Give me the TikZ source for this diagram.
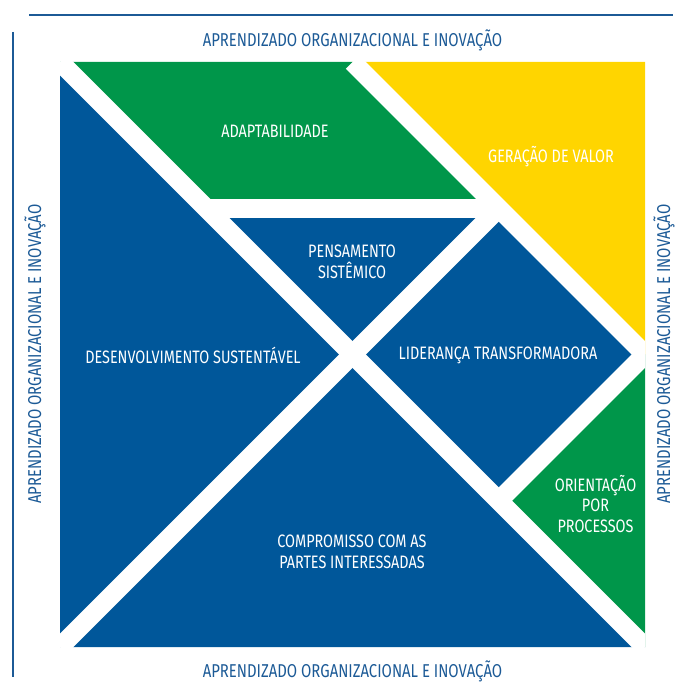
\documentclass[tikz,border=0pt]{standalone}
\usepackage{fontspec}
\newfontfamily\labfont{Fira Sans}[FakeStretch=0.80]
\definecolor{tblue}{HTML}{00579A}
\definecolor{tgreen}{HTML}{00964A}
\definecolor{tyellow}{HTML}{FFD500}
\definecolor{tline}{HTML}{1C5A96}
\begin{document}
\begin{tikzpicture}[x=1pt,y=-1pt,
  piece/.style={draw=none},
  cut/.style={draw=white,line width=19pt,line cap=butt},
  inlab/.style={text=white,font=\labfont\fontsize{18}{20.7}\selectfont,align=center,inner sep=0pt},
  outlab/.style={text=tline,font=\labfont\fontsize{18.6}{20}\selectfont,inner sep=0pt},
  frame/.style={draw=tline,line width=2.6pt}]
\useasboundingbox (0,0) rectangle (678,685);
% tangram corner points
\coordinate (A) at (60,62);
\coordinate (B) at (645,62);
\coordinate (C) at (645,647);
\coordinate (D) at (60,647);
\coordinate (O) at (352.5,354.5);
\coordinate (M1) at (352.5,62);
\coordinate (M2) at (645,354.5);
\coordinate (Q1) at (206.25,208.25);
\coordinate (Q2) at (498.75,208.25);
\coordinate (Q3) at (498.75,500.75);
% frame lines
\coordinate (f1) at (29,15);
\coordinate (f2) at (673,15);
\coordinate (f3) at (13,32);
\coordinate (f4) at (13,677);
\draw[frame] (f1) -- (f2);
\draw[frame] (f3) -- (f4);
% pieces
\fill[tblue] (A) -- (D) -- (O) -- cycle;
\fill[tblue] (D) -- (C) -- (O) -- cycle;
\fill[tyellow] (M1) -- (B) -- (M2) -- cycle;
\fill[tgreen] (A) -- (M1) -- (Q2) -- (Q1) -- cycle;
\fill[tblue] (Q1) -- (Q2) -- (O) -- cycle;
\fill[tblue] (O) -- (Q2) -- (M2) -- (Q3) -- cycle;
\fill[tgreen] (M2) -- (C) -- (Q3) -- cycle;
% white cuts
\begin{scope}
\clip (A) rectangle (C);
\draw[cut] (A) -- (C);
\draw[cut] (D) -- (Q2);
\draw[cut] (M1) -- (M2);
\draw[cut] (Q1) -- (Q2);
\draw[cut] (M2) -- (Q3);
\end{scope}
% inner labels
\node[inlab] (adapt) at (275,131) {ADAPTABILIDADE};
\node[inlab] (valor) at (551,157) {GERAÇÃO DE VALOR};
\node[inlab] (pens) at (352,262) {PENSAMENTO\\SISTÊMICO};
\node[inlab] (desen) at (193,355) {DESENVOLVIMENTO SUSTENTÁVEL};
\node[inlab] (lider) at (498,355) {LIDERANÇA TRANSFORMADORA};
\node[inlab] (orient) at (595.5,504) {ORIENTAÇÃO\\POR\\PROCESSOS};
\node[inlab] (comp) at (352,552) {COMPROMISSO COM AS\\PARTES INTERESSADAS};
% outer labels
\node[outlab] (top) at (352.5,40) {APRENDIZADO ORGANIZACIONAL E INOVAÇÃO};
\node[outlab] (bot) at (352.5,671) {APRENDIZADO ORGANIZACIONAL E INOVAÇÃO};
\node[outlab,rotate=90] (left) at (35,354) {APRENDIZADO ORGANIZACIONAL E INOVAÇÃO};
\node[outlab,rotate=90] (right) at (664,354) {APRENDIZADO ORGANIZACIONAL E INOVAÇÃO};
\end{tikzpicture}
\end{document}
